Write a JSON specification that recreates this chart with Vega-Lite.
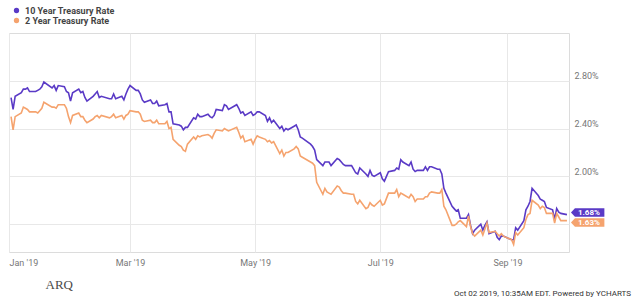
{
  "$schema": "https://vega.github.io/schema/vega-lite/v6.json",
  "width": 560,
  "height": 219,
  "autosize": "none",
  "padding": {"left": 9, "top": 33, "right": 67, "bottom": 46},
  "background": "white",
  "config": {"view": {"stroke": "#dcdcdc"}, "font": "Roboto"},
  "title": {"text": "Oct 02 2019, 10:35AM EDT.  Powered by YCHARTS", "orient": "bottom", "anchor": "end", "frame": "group", "fontSize": 8, "fontWeight": "normal", "color": "#333", "dx": 62, "dy": -5},
  "data": {"values": [
    {"d":"2019-01-02","y10":2.66,"y2":2.50},{"d":"2019-01-03","y10":2.56,"y2":2.39},{"d":"2019-01-04","y10":2.67,"y2":2.50},{"d":"2019-01-07","y10":2.70,"y2":2.53},{"d":"2019-01-08","y10":2.73,"y2":2.58},{"d":"2019-01-09","y10":2.73,"y2":2.57},{"d":"2019-01-10","y10":2.74,"y2":2.56},{"d":"2019-01-11","y10":2.71,"y2":2.54},{"d":"2019-01-14","y10":2.71,"y2":2.54},{"d":"2019-01-15","y10":2.72,"y2":2.53},{"d":"2019-01-16","y10":2.73,"y2":2.55},{"d":"2019-01-17","y10":2.75,"y2":2.57},{"d":"2019-01-18","y10":2.79,"y2":2.62},{"d":"2019-01-22","y10":2.74,"y2":2.58},{"d":"2019-01-23","y10":2.76,"y2":2.58},{"d":"2019-01-24","y10":2.72,"y2":2.57},{"d":"2019-01-25","y10":2.76,"y2":2.60},{"d":"2019-01-28","y10":2.75,"y2":2.60},{"d":"2019-01-29","y10":2.71,"y2":2.57},{"d":"2019-01-30","y10":2.70,"y2":2.50},{"d":"2019-01-31","y10":2.63,"y2":2.45},
    {"d":"2019-02-01","y10":2.70,"y2":2.51},{"d":"2019-02-04","y10":2.73,"y2":2.53},{"d":"2019-02-05","y10":2.70,"y2":2.50},{"d":"2019-02-06","y10":2.71,"y2":2.50},{"d":"2019-02-07","y10":2.66,"y2":2.47},{"d":"2019-02-08","y10":2.63,"y2":2.45},{"d":"2019-02-11","y10":2.67,"y2":2.48},{"d":"2019-02-12","y10":2.69,"y2":2.50},{"d":"2019-02-13","y10":2.71,"y2":2.51},{"d":"2019-02-14","y10":2.66,"y2":2.49},{"d":"2019-02-15","y10":2.67,"y2":2.51},{"d":"2019-02-19","y10":2.65,"y2":2.49},{"d":"2019-02-20","y10":2.65,"y2":2.50},{"d":"2019-02-21","y10":2.69,"y2":2.52},{"d":"2019-02-22","y10":2.65,"y2":2.49},{"d":"2019-02-25","y10":2.67,"y2":2.51},{"d":"2019-02-26","y10":2.64,"y2":2.48},{"d":"2019-02-27","y10":2.69,"y2":2.51},{"d":"2019-02-28","y10":2.73,"y2":2.52},
    {"d":"2019-03-01","y10":2.76,"y2":2.55},{"d":"2019-03-04","y10":2.72,"y2":2.54},{"d":"2019-03-05","y10":2.72,"y2":2.54},{"d":"2019-03-06","y10":2.69,"y2":2.52},{"d":"2019-03-07","y10":2.64,"y2":2.47},{"d":"2019-03-08","y10":2.62,"y2":2.46},{"d":"2019-03-11","y10":2.64,"y2":2.47},{"d":"2019-03-12","y10":2.61,"y2":2.45},{"d":"2019-03-13","y10":2.61,"y2":2.45},{"d":"2019-03-14","y10":2.63,"y2":2.47},{"d":"2019-03-15","y10":2.59,"y2":2.44},{"d":"2019-03-18","y10":2.60,"y2":2.44},{"d":"2019-03-19","y10":2.61,"y2":2.46},{"d":"2019-03-20","y10":2.54,"y2":2.40},{"d":"2019-03-21","y10":2.54,"y2":2.41},{"d":"2019-03-22","y10":2.44,"y2":2.31},{"d":"2019-03-25","y10":2.43,"y2":2.26},{"d":"2019-03-26","y10":2.42,"y2":2.25},{"d":"2019-03-27","y10":2.39,"y2":2.22},{"d":"2019-03-28","y10":2.41,"y2":2.21},{"d":"2019-03-29","y10":2.41,"y2":2.27},
    {"d":"2019-04-01","y10":2.49,"y2":2.33},{"d":"2019-04-02","y10":2.48,"y2":2.31},{"d":"2019-04-03","y10":2.52,"y2":2.34},{"d":"2019-04-04","y10":2.50,"y2":2.33},{"d":"2019-04-05","y10":2.50,"y2":2.34},{"d":"2019-04-08","y10":2.52,"y2":2.35},{"d":"2019-04-09","y10":2.50,"y2":2.34},{"d":"2019-04-10","y10":2.49,"y2":2.32},{"d":"2019-04-11","y10":2.51,"y2":2.36},{"d":"2019-04-12","y10":2.56,"y2":2.39},{"d":"2019-04-15","y10":2.55,"y2":2.38},{"d":"2019-04-16","y10":2.60,"y2":2.40},{"d":"2019-04-17","y10":2.59,"y2":2.39},{"d":"2019-04-18","y10":2.56,"y2":2.38},{"d":"2019-04-22","y10":2.60,"y2":2.41},{"d":"2019-04-23","y10":2.57,"y2":2.37},{"d":"2019-04-24","y10":2.53,"y2":2.32},{"d":"2019-04-25","y10":2.54,"y2":2.34},{"d":"2019-04-26","y10":2.51,"y2":2.29},{"d":"2019-04-29","y10":2.54,"y2":2.31},{"d":"2019-04-30","y10":2.51,"y2":2.27},
    {"d":"2019-05-01","y10":2.52,"y2":2.31},{"d":"2019-05-02","y10":2.54,"y2":2.34},{"d":"2019-05-03","y10":2.54,"y2":2.33},{"d":"2019-05-06","y10":2.51,"y2":2.31},{"d":"2019-05-07","y10":2.46,"y2":2.29},{"d":"2019-05-08","y10":2.49,"y2":2.30},{"d":"2019-05-09","y10":2.45,"y2":2.28},{"d":"2019-05-10","y10":2.47,"y2":2.29},{"d":"2019-05-13","y10":2.40,"y2":2.19},{"d":"2019-05-14","y10":2.42,"y2":2.22},{"d":"2019-05-15","y10":2.38,"y2":2.17},{"d":"2019-05-16","y10":2.40,"y2":2.20},{"d":"2019-05-17","y10":2.39,"y2":2.20},{"d":"2019-05-20","y10":2.42,"y2":2.23},{"d":"2019-05-21","y10":2.43,"y2":2.25},{"d":"2019-05-22","y10":2.39,"y2":2.23},{"d":"2019-05-23","y10":2.33,"y2":2.17},{"d":"2019-05-24","y10":2.32,"y2":2.16},{"d":"2019-05-28","y10":2.27,"y2":2.12},{"d":"2019-05-29","y10":2.25,"y2":2.11},{"d":"2019-05-30","y10":2.22,"y2":2.09},{"d":"2019-05-31","y10":2.14,"y2":1.95},
    {"d":"2019-06-03","y10":2.09,"y2":1.85},{"d":"2019-06-04","y10":2.12,"y2":1.90},{"d":"2019-06-05","y10":2.12,"y2":1.87},{"d":"2019-06-06","y10":2.12,"y2":1.86},{"d":"2019-06-07","y10":2.09,"y2":1.85},{"d":"2019-06-10","y10":2.15,"y2":1.92},{"d":"2019-06-11","y10":2.14,"y2":1.91},{"d":"2019-06-12","y10":2.12,"y2":1.88},{"d":"2019-06-13","y10":2.10,"y2":1.86},{"d":"2019-06-14","y10":2.09,"y2":1.86},{"d":"2019-06-17","y10":2.09,"y2":1.85},{"d":"2019-06-18","y10":2.06,"y2":1.85},{"d":"2019-06-19","y10":2.03,"y2":1.79},{"d":"2019-06-20","y10":2.02,"y2":1.77},{"d":"2019-06-21","y10":2.07,"y2":1.80},{"d":"2019-06-24","y10":2.02,"y2":1.73},{"d":"2019-06-25","y10":2.00,"y2":1.74},{"d":"2019-06-26","y10":2.05,"y2":1.78},{"d":"2019-06-27","y10":2.01,"y2":1.76},{"d":"2019-06-28","y10":2.00,"y2":1.75},
    {"d":"2019-07-01","y10":2.03,"y2":1.80},{"d":"2019-07-02","y10":1.98,"y2":1.76},{"d":"2019-07-03","y10":1.96,"y2":1.77},{"d":"2019-07-05","y10":2.04,"y2":1.86},{"d":"2019-07-08","y10":2.05,"y2":1.86},{"d":"2019-07-09","y10":2.07,"y2":1.89},{"d":"2019-07-10","y10":2.06,"y2":1.83},{"d":"2019-07-11","y10":2.14,"y2":1.86},{"d":"2019-07-12","y10":2.12,"y2":1.85},{"d":"2019-07-15","y10":2.09,"y2":1.82},{"d":"2019-07-16","y10":2.12,"y2":1.85},{"d":"2019-07-17","y10":2.06,"y2":1.83},{"d":"2019-07-18","y10":2.04,"y2":1.79},{"d":"2019-07-19","y10":2.05,"y2":1.81},{"d":"2019-07-22","y10":2.05,"y2":1.81},{"d":"2019-07-23","y10":2.08,"y2":1.83},{"d":"2019-07-24","y10":2.05,"y2":1.83},{"d":"2019-07-25","y10":2.08,"y2":1.86},{"d":"2019-07-26","y10":2.08,"y2":1.87},{"d":"2019-07-29","y10":2.06,"y2":1.86},{"d":"2019-07-30","y10":2.06,"y2":1.86},{"d":"2019-07-31","y10":2.02,"y2":1.89},
    {"d":"2019-08-01","y10":1.90,"y2":1.75},{"d":"2019-08-02","y10":1.86,"y2":1.72},{"d":"2019-08-05","y10":1.75,"y2":1.59},{"d":"2019-08-06","y10":1.73,"y2":1.59},{"d":"2019-08-07","y10":1.71,"y2":1.60},{"d":"2019-08-08","y10":1.72,"y2":1.62},{"d":"2019-08-09","y10":1.65,"y2":1.63},{"d":"2019-08-12","y10":1.65,"y2":1.58},{"d":"2019-08-13","y10":1.68,"y2":1.67},{"d":"2019-08-14","y10":1.59,"y2":1.58},{"d":"2019-08-15","y10":1.52,"y2":1.52},{"d":"2019-08-16","y10":1.55,"y2":1.50},{"d":"2019-08-19","y10":1.60,"y2":1.55},{"d":"2019-08-20","y10":1.55,"y2":1.51},{"d":"2019-08-21","y10":1.59,"y2":1.56},{"d":"2019-08-22","y10":1.62,"y2":1.61},{"d":"2019-08-23","y10":1.52,"y2":1.53},{"d":"2019-08-26","y10":1.54,"y2":1.54},{"d":"2019-08-27","y10":1.49,"y2":1.52},{"d":"2019-08-28","y10":1.47,"y2":1.50},{"d":"2019-08-29","y10":1.50,"y2":1.52},{"d":"2019-08-30","y10":1.50,"y2":1.50},
    {"d":"2019-09-03","y10":1.47,"y2":1.47},{"d":"2019-09-04","y10":1.47,"y2":1.43},{"d":"2019-09-05","y10":1.57,"y2":1.53},{"d":"2019-09-06","y10":1.55,"y2":1.51},{"d":"2019-09-09","y10":1.63,"y2":1.57},{"d":"2019-09-10","y10":1.72,"y2":1.64},{"d":"2019-09-11","y10":1.75,"y2":1.68},{"d":"2019-09-12","y10":1.79,"y2":1.69},{"d":"2019-09-13","y10":1.90,"y2":1.80},{"d":"2019-09-16","y10":1.84,"y2":1.76},{"d":"2019-09-17","y10":1.81,"y2":1.73},{"d":"2019-09-18","y10":1.80,"y2":1.75},{"d":"2019-09-19","y10":1.79,"y2":1.74},{"d":"2019-09-20","y10":1.74,"y2":1.69},{"d":"2019-09-23","y10":1.72,"y2":1.69},{"d":"2019-09-24","y10":1.64,"y2":1.61},{"d":"2019-09-25","y10":1.73,"y2":1.69},{"d":"2019-09-26","y10":1.70,"y2":1.66},{"d":"2019-09-27","y10":1.69,"y2":1.63},{"d":"2019-09-30","y10":1.68,"y2":1.63}
  ]},
  "transform": [{"fold": ["y10", "y2"], "as": ["series", "value"]}],
  "encoding": {
    "x": {"field": "d", "type": "temporal",
      "scale": {"type": "utc", "domain": [{"year": 2019, "month": 1, "date": 1, "utc": true}, {"year": 2019, "month": 10, "date": 1, "utc": true}]},
      "axis": {"values": [{"year": 2019, "month": 1, "date": 1, "utc": true}, {"year": 2019, "month": 3, "date": 1, "utc": true}, {"year": 2019, "month": 5, "date": 1, "utc": true}, {"year": 2019, "month": 7, "date": 1, "utc": true}, {"year": 2019, "month": 9, "date": 1, "utc": true}],
        "labelExpr": "utcFormat(datum.value, '%b \\'%y')", "grid": true, "gridColor": "#e8e8e8", "ticks": false, "domain": false, "labelFlush": true, "labelColor": "#777", "labelFontSize": 9, "labelPadding": 6,
        "title": "ARQ", "titleAnchor": "start", "titleX": 36, "titleY": 26, "titleFont": "Liberation Serif", "titleFontSize": 13, "titleFontWeight": "normal", "titleColor": "#4a4a4a"}},
    "y": {"field": "value", "type": "quantitative",
      "scale": {"domain": [1.367, 3.2], "nice": false, "zero": false},
      "axis": {"orient": "right", "values": [1.6, 2.0, 2.4, 2.8], "labelExpr": "datum.value < 1.7 ? '' : format(datum.value, '.2f') + '%'", "grid": true, "gridColor": "#e8e8e8", "ticks": false, "domain": false, "labelBaseline": "bottom", "labelPadding": 5, "labelColor": "#777", "labelFontSize": 9, "title": null}}
  },
  "layer": [
    {"mark": {"type": "line", "strokeWidth": 1.6},
     "encoding": {"color": {"field": "series", "type": "nominal",
       "scale": {"domain": ["y10", "y2"], "range": ["#5a3ac6", "#f5a36e"]},
       "legend": {"orient": "none", "legendX": 3, "legendY": -27, "direction": "vertical", "title": null, "symbolType": "circle", "symbolSize": 28, "symbolStrokeWidth": 0, "labelFontSize": 9, "labelFontWeight": "bold", "labelColor": "#444", "rowPadding": 0, "labelOffset": 4,
         "labelExpr": "datum.label == 'y10' ? '10 Year Treasury Rate' : '2 Year Treasury Rate'",
         "encode": {"symbols": {"update": {"fill": {"scale": "color", "field": "value"}, "strokeWidth": {"value": 0}}}}}}}},
    {"transform": [{"filter": "datum.series == 'y10' && time(datum.d) >= utc(2019, 8, 29)"}],
     "mark": {"type": "point", "shape": "M0.235,0L0.47,-0.25L2.2,-0.25L2.2,0.25L0.47,0.25Z", "size": 1156, "filled": true, "opacity": 1, "color": "#5a3ac6", "yOffset": -2}},
    {"transform": [{"filter": "datum.series == 'y2' && time(datum.d) >= utc(2019, 8, 29)"}],
     "mark": {"type": "point", "shape": "M0.235,0L0.47,-0.25L2.2,-0.25L2.2,0.25L0.47,0.25Z", "size": 1156, "filled": true, "opacity": 1, "color": "#f5a36e", "yOffset": 2}},
    {"transform": [{"filter": "datum.series == 'y10' && time(datum.d) >= utc(2019, 8, 29)"}],
     "mark": {"type": "text", "text": {"expr": "format(datum.value, '.2f') + '%'"}, "color": "white", "fontWeight": "bold", "fontSize": 8, "align": "center", "baseline": "middle", "dx": 22, "dy": -2}},
    {"transform": [{"filter": "datum.series == 'y2' && time(datum.d) >= utc(2019, 8, 29)"}],
     "mark": {"type": "text", "text": {"expr": "format(datum.value, '.2f') + '%'"}, "color": "white", "fontWeight": "bold", "fontSize": 8, "align": "center", "baseline": "middle", "dx": 22, "dy": 2}}
  ]
}
